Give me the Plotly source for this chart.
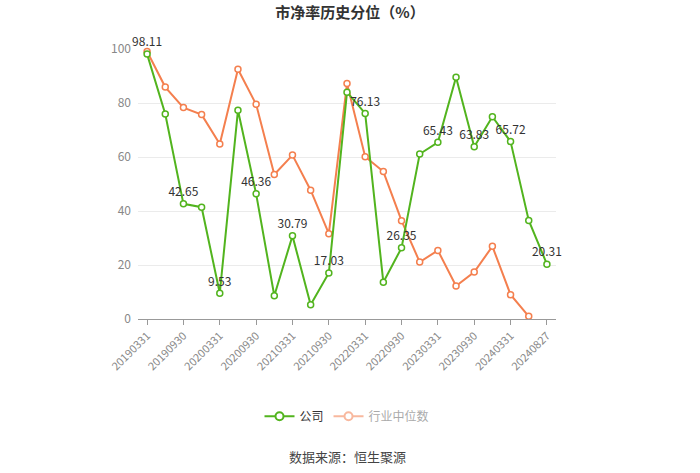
import plotly.graph_objects as go

categories = ["20190331", "20190630", "20190930", "20191231", "20200331", "20200630",
              "20200930", "20201231", "20210331", "20210630", "20210930", "20211231",
              "20220331", "20220630", "20220930", "20221231", "20230331", "20230630",
              "20230930", "20231231", "20240331", "20240630", "20240827"]
company = [98.11, 75.9, 42.65, 41.4, 9.53, 77.3, 46.36, 8.6, 30.79, 5.3, 17.03, 84.0,
           76.13, 13.6, 26.35, 61.1, 65.43, 89.5, 63.83, 74.9, 65.72, 36.5, 20.31]
industry = [99.1, 85.9, 78.3, 75.7, 64.8, 92.5, 79.5, 53.5, 60.7, 47.7, 31.6, 87.2,
            60.1, 54.6, 36.4, 21.1, 25.4, 12.2, 17.4, 26.9, 9.0, 1.0, None]
tick_labels = categories[::2]

GREEN = "#52B41E"
ORANGE = "#F47F4E"
FONT = "Noto Sans CJK SC, Noto Sans, sans-serif"

labels = [f"{v:.2f}" if i % 2 == 0 else "" for i, v in enumerate(company)]

fig = go.Figure()
fig.add_trace(go.Scatter(
    x=categories, y=industry, mode="lines+markers", name="行业中位数",
    line=dict(color=ORANGE, width=2),
    marker=dict(symbol="circle", size=6, color="white", line=dict(color=ORANGE, width=1.5)),
    showlegend=False, cliponaxis=False))
fig.add_trace(go.Scatter(
    x=categories, y=company, mode="lines+markers+text", name="公司",
    text=labels, textposition="top center",
    textfont=dict(color="#333333", size=12, family=FONT),
    line=dict(color=GREEN, width=2),
    marker=dict(symbol="circle", size=6, color="white", line=dict(color=GREEN, width=1.5)),
    showlegend=False, cliponaxis=False))
# legend entries
fig.add_trace(go.Scatter(
    x=[None], y=[None], mode="lines+markers", name="公司",
    line=dict(color=GREEN, width=2),
    marker=dict(symbol="circle", size=8, color="white", line=dict(color=GREEN, width=2))))
fig.add_trace(go.Scatter(
    x=[None], y=[None], mode="lines+markers",
    name='<span style="color:#aaaaaa">行业中位数</span>',
    line=dict(color="#F8B89E", width=2),
    marker=dict(symbol="circle", size=8, color="white", line=dict(color="#F8B89E", width=2))))

fig.update_layout(
    width=700, height=473,
    margin=dict(l=138, r=144, t=49, b=154),
    paper_bgcolor="white", plot_bgcolor="white",
    font=dict(family=FONT, size=12, color="#666666"),
    title=dict(text="<b>市净率历史分位（%）</b>", x=0.5, xanchor="center",
               y=1 - 13 / 473, yanchor="middle",
               font=dict(size=15, color="#333333", family=FONT)),
    legend=dict(orientation="h", x=0.5, xanchor="center", y=-0.36, yanchor="middle",
                font=dict(size=12, color="#333333", family=FONT),
                itemwidth=30, bgcolor="rgba(0,0,0,0)"),
    xaxis=dict(type="category", categoryorder="array", categoryarray=categories,
               range=[-0.5, len(categories) - 0.5],
               tickmode="array", tickvals=tick_labels, ticktext=tick_labels,
               tickangle=-45, ticks="outside", ticklen=5, tickcolor="#999999",
               showline=True, linecolor="#999999", linewidth=1,
               showgrid=False, zeroline=False,
               tickfont=dict(size=11, color="#888888")),
    yaxis=dict(range=[0, 100], dtick=20, showgrid=True, gridcolor="#EBEBEB",
               gridwidth=1, zeroline=False, showline=False, ticks="",
               ticklabelstandoff=6,
               tickfont=dict(size=12, color="#888888")),
    annotations=[dict(text="数据来源：恒生聚源", xref="paper", yref="paper",
                      x=0.5, y=-0.51, xanchor="center", yanchor="middle",
                      showarrow=False, font=dict(size=13, color="#444444", family=FONT))],
)

fig.write_html("out.html")
